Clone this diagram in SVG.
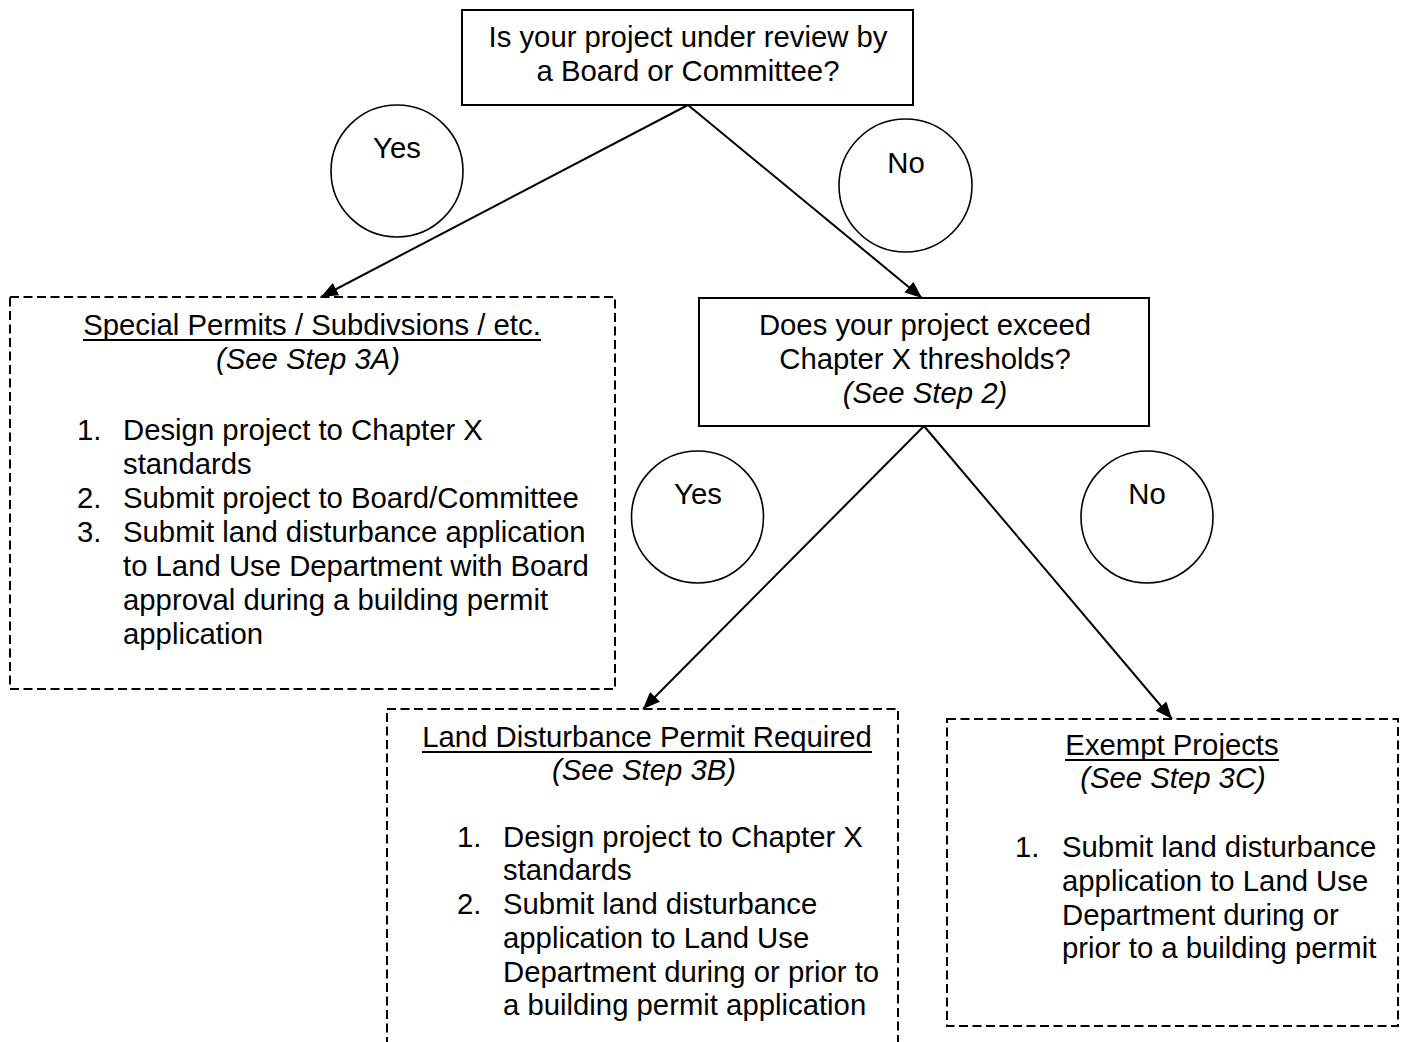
<svg xmlns="http://www.w3.org/2000/svg" width="1406" height="1042" viewBox="0 0 1406 1042">
<style>
text{font-family:"Liberation Sans",Arial,sans-serif;font-size:29.3px;fill:#000}
.c{text-anchor:middle}
.i{font-style:italic}
.box{fill:#fff;stroke:#000;stroke-width:2}
.dash{fill:#fff;stroke:#000;stroke-width:2;stroke-dasharray:9 4.5}
.circ{fill:#fff;stroke:#000;stroke-width:1.6}
.ul{stroke:#000;stroke-width:2}
.con{stroke:#000;stroke-width:2;fill:none;marker-end:url(#ah)}
</style>
<defs>
<marker id="ah" markerUnits="userSpaceOnUse" markerWidth="18" markerHeight="14" refX="17" refY="7" orient="auto">
<path d="M0,0 L17,7 L0,14 z" fill="#000"/>
</marker>
</defs>
<rect width="1406" height="1042" fill="#fff"/>

<g id="q1">
<rect class="box" x="462" y="10" width="451" height="95"/>
<text class="c" x="688" y="47">Is your project under review by</text>
<text class="c" x="688" y="81">a Board or Committee?</text>
</g>

<g id="yes1">
<circle class="circ" cx="397" cy="171" r="66"/>
<text class="c" x="397" y="158">Yes</text>
</g>

<g id="no1">
<circle class="circ" cx="905.5" cy="185.5" r="66.5"/>
<text class="c" x="906" y="173">No</text>
</g>

<g id="special">
<rect class="dash" x="10" y="297" width="605" height="392"/>
<text class="c" x="312" y="335">Special Permits / Subdivsions / etc.</text>
<line class="ul" x1="83" y1="340" x2="541" y2="340"/>
<text class="c i" x="308" y="369">(See Step 3A)</text>
<text x="77" y="440">1.</text><text x="123" y="440">Design project to Chapter X</text>
<text x="123" y="474">standards</text>
<text x="77" y="508">2.</text><text x="123" y="508">Submit project to Board/Committee</text>
<text x="77" y="542">3.</text><text x="123" y="542">Submit land disturbance application</text>
<text x="123" y="576">to Land Use Department with Board</text>
<text x="123" y="610">approval during a building permit</text>
<text x="123" y="644">application</text>
</g>

<g id="q2">
<rect class="box" x="699" y="298" width="450" height="128"/>
<text class="c" x="925" y="335">Does your project exceed</text>
<text class="c" x="925" y="369">Chapter X thresholds?</text>
<text class="c i" x="925" y="403">(See Step 2)</text>
</g>

<g id="yes2">
<circle class="circ" cx="697.5" cy="517" r="66"/>
<text class="c" x="698" y="504">Yes</text>
</g>

<g id="no2">
<circle class="circ" cx="1147" cy="517" r="66"/>
<text class="c" x="1147" y="504">No</text>
</g>

<g id="landdist">
<rect class="dash" x="387" y="709" width="511" height="400"/>
<text class="c" x="647" y="747">Land Disturbance Permit Required</text>
<line class="ul" x1="422" y1="752" x2="872" y2="752"/>
<text class="c i" x="644" y="780">(See Step 3B)</text>
<text x="457" y="847">1.</text><text x="503" y="847">Design project to Chapter X</text>
<text x="503" y="880">standards</text>
<text x="457" y="914">2.</text><text x="503" y="914">Submit land disturbance</text>
<text x="503" y="948">application to Land Use</text>
<text x="503" y="982">Department during or prior to</text>
<text x="503" y="1015">a building permit application</text>
</g>

<g id="exempt">
<rect class="dash" x="947" y="719" width="451" height="307"/>
<text class="c" x="1172" y="755">Exempt Projects</text>
<line class="ul" x1="1065" y1="760" x2="1279" y2="760"/>
<text class="c i" x="1173" y="788">(See Step 3C)</text>
<text x="1015" y="857">1.</text><text x="1062" y="857">Submit land disturbance</text>
<text x="1062" y="891">application to Land Use</text>
<text x="1062" y="925">Department during or</text>
<text x="1062" y="958">prior to a building permit</text>
</g>

<g id="connectors">
<line class="con" x1="688" y1="105" x2="321" y2="297"/>
<line class="con" x1="688" y1="105" x2="922" y2="298"/>
<line class="con" x1="924" y1="426" x2="643" y2="709"/>
<line class="con" x1="924" y1="426" x2="1172" y2="719"/>
</g>
</svg>
